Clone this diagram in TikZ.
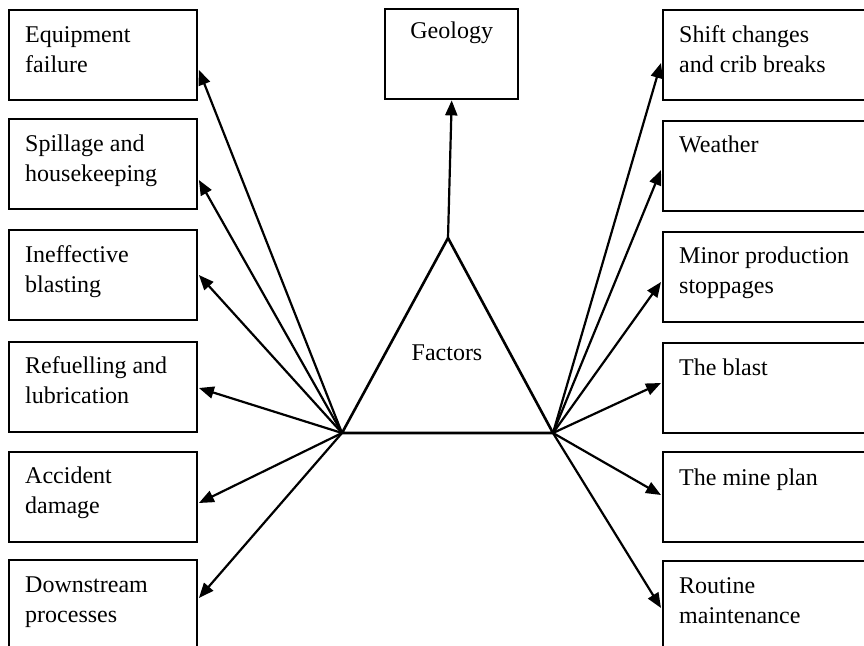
\documentclass[tikz,border=0pt]{standalone}
\usepackage{fontspec}
\setmainfont{Liberation Serif}
\usetikzlibrary{arrows.meta,calc}

\tikzset{
  box/.style={draw, line width=2.4bp, minimum width=#1, minimum height=90bp,
              inner sep=0pt, anchor=north west},
  box/.default=188bp,
  % anchored on the baseline of the last line of the text
  boxtext/.style={anchor=base west, inner sep=0pt, align=left,
                  font=\fontsize{24bp}{30bp}\selectfont},
  link/.style={line width=2.2bp, -{Triangle[length=15bp,width=12bp]}},
  edge/.style={line width=2.6bp}
}

\begin{document}
\begin{tikzpicture}[x=1bp, y=-1bp]
\useasboundingbox (0,0) rectangle (864,646);
\clip (0,0) rectangle (864,646);

% left column of factors
\node[box] (L1) at (7.5,9)   {};
\node[box] (L2) at (7.5,118) {};
\node[box] (L3) at (7.5,229) {};
\node[box] (L4) at (7.5,341) {};
\node[box] (L5) at (7.5,451) {};
\node[box] (L6) at (7.5,559) {};

\node[boxtext] (tL1) at ($(L1.north west)+(17.5,64)$) {Equipment\\failure};
\node[boxtext] (tL2) at ($(L2.north west)+(17.5,64)$) {Spillage and\\housekeeping};
\node[boxtext] (tL3) at ($(L3.north west)+(17.5,63)$) {Ineffective\\blasting};
\node[boxtext] (tL4) at ($(L4.north west)+(17.5,62)$) {Refuelling and\\lubrication};
\node[boxtext] (tL5) at ($(L5.north west)+(17.5,62)$) {Accident\\damage};
\node[boxtext] (tL6) at ($(L6.north west)+(17.5,63)$) {Downstream\\processes};

% right column of factors
\node[box=240bp] (R1) at (662,9)   {};
\node[box=240bp] (R2) at (662,120) {};
\node[box=240bp] (R3) at (662,231) {};
\node[box=240bp] (R4) at (662,342) {};
\node[box=240bp] (R5) at (662,451) {};
\node[box=240bp] (R6) at (662,560) {};

\node[boxtext] (tR1) at ($(R1.north west)+(17,64)$) {Shift changes\\and crib breaks};
\node[boxtext] (tR2) at ($(R2.north west)+(17,33)$) {Weather};
\node[boxtext] (tR3) at ($(R3.north west)+(17,62)$) {Minor production\\stoppages};
\node[boxtext] (tR4) at ($(R4.north west)+(17,33)$) {The blast};
\node[boxtext] (tR5) at ($(R5.north west)+(17,34)$) {The mine plan};
\node[boxtext] (tR6) at ($(R6.north west)+(17,63)$) {Routine\\maintenance};

% top box
\node[box=133bp] (G) at (384,8) {};
\node[boxtext, anchor=base] (tG) at ($(G.north)+(0,31)$) {Geology};

% central triangle
\coordinate (apex) at (448,238);
\coordinate (bl) at (342,433);
\coordinate (br) at (553,433);
\draw[edge, line join=miter] (apex) -- (bl) -- (br) -- cycle;
\node[boxtext, anchor=base] (tF) at (447,360) {Factors};

% connectors
\draw[link] (apex) -- (G.south);

\draw[link] (bl) -- ($(L1.north east)+(1,61)$);
\draw[link] (bl) -- ($(L2.north east)+(1,62)$);
\draw[link] (bl) -- ($(L3.north east)+(1,46)$);
\draw[link] (bl) -- ($(L4.north east)+(1,47)$);
\draw[link] (bl) -- ($(L5.north east)+(1,52)$);
\draw[link] (bl) -- ($(L6.north east)+(1,39)$);

\draw[link] (br) -- ($(R1.north west)+(-1,54)$);
\draw[link] (br) -- ($(R2.north west)+(-1,50)$);
\draw[link] (br) -- ($(R3.north west)+(-1,51)$);
\draw[link] (br) -- ($(R4.north west)+(-1,41)$);
\draw[link] (br) -- ($(R5.north west)+(-1,44)$);
\draw[link] (br) -- ($(R6.north west)+(-1,48)$);
\end{tikzpicture}
\end{document}
